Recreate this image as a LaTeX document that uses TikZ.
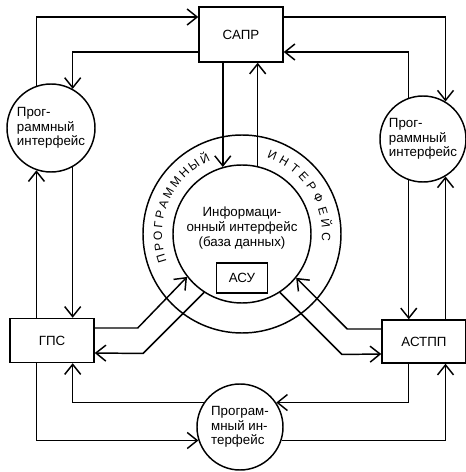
\documentclass[tikz,border=0pt]{standalone}
\usepackage{fontspec}
\setmainfont{Liberation Sans}
\usetikzlibrary{calc,arrows.meta,decorations.text}

\tikzset{
  box/.style={draw, line width=1.1pt, inner sep=0pt, minimum width=63pt, minimum height=33pt},
  iface/.style={draw, circle, line width=1.1pt, inner sep=0pt, minimum size=66pt, align=left, font=\fontsize{10}{11}\selectfont},
  link/.style={line width=1.1pt, ->},
}

\begin{document}
\begin{tikzpicture}[x=0.75pt, y=0.75pt, >={Straight Barb[length=7.5pt,width=12pt]}]
  \useasboundingbox (0,0) rectangle (466,472);

  %%%%% nodes %%%%%
  \node[box, minimum height=41.25pt] (sapr) at (241,437.5) {САПР};
  \node[box] (gps) at (52,131.5) {ГПС};
  \node[box, minimum height=32.25pt] (astpp) at (424,130.5) {АСТПП};

  \node[iface] (lc) at (51,344) {Прог-\\раммный\\интерфейс};
  \node[iface, minimum size=64.5pt] (rc) at (423,333) {Прог-\\раммный\\интерфейс};
  \node[iface, minimum size=64.5pt] (bc) at (240,45) {Програм-\\мный ин-\\терфейс};

  \node[draw, circle, line width=1.1pt, minimum size=148.5pt] (oc) at (242,238) {};
  \node[draw, circle, line width=1.1pt, minimum size=103.5pt] (ic) at (242,238) {};
  \node[align=center, font=\fontsize{10}{11.5}\selectfont] (info) at ($(ic)+(0,6)$) {Информаци-\\онный интерфейс\\(база данных)};
  \node[box, minimum width=38pt, minimum height=22.5pt] (asu) at ($(ic)+(0,-44)$) {АСУ};

  \path[decorate, decoration={text along path, text align=fit to path, text={|\small|ПРОГРАММНЫЙ}}]
    ($(ic)+(200:80)$) arc[start angle=200, end angle=113, radius=80];
  \path[decorate, decoration={text along path, text align=fit to path, text={|\small|ИНТЕРФЕЙС}}]
    ($(ic)+(72:80)$) arc[start angle=72, end angle=-5, radius=80];

  %%%%% left side %%%%%
  \draw[link] (lc.251 |- gps.north) -- (lc.251);
  \draw[link] (lc.109) |- ($(sapr.west)+(0,17.5)$);
  \draw[link] ($(sapr.west)+(0,-17.5)$) -| (lc.61);
  \draw[link] (lc.299) -- (lc.299 |- gps.north);

  %%%%% right side %%%%%
  \draw[link] ($(sapr.east)+(0,17.5)$) -| (rc.59);
  \draw[link] (rc.109) |- ($(sapr.east)+(0,-17.5)$);
  \draw[link] (rc.301 |- astpp.north) -- (rc.301);
  \draw[link] (rc.251) -- (rc.251 |- astpp.north);

  %%%%% bottom %%%%%
  \draw[link] (lc.251 |- gps.south) |- (bc.198);
  \draw[link] (bc.146) -| (lc.299 |- gps.south);
  \draw[link] (rc.251 |- astpp.south) |- (bc.34);
  \draw[link] (bc.342) -| (rc.301 |- astpp.south);

  %%%%% centre %%%%%
  \draw[link] (ic.106 |- sapr.south) -- (ic.106);
  \draw[link] (ic.77) -- (ic.77 |- sapr.south);
  \draw[link] ($(gps.east)+(0,12.5)$) -- ++(43,0) -- (ic.218);
  \draw[link] (ic.237) -- ++(-61,-61) -- ($(gps.east)+(0,-12.5)$);
  \draw[link] ($(astpp.west)+(0,12.5)$) -- ++(-34,0) -- (ic.321);
  \draw[link] (ic.303) -- ++(62,-62) -- ($(astpp.west)+(0,-12.5)$);
\end{tikzpicture}
\end{document}
